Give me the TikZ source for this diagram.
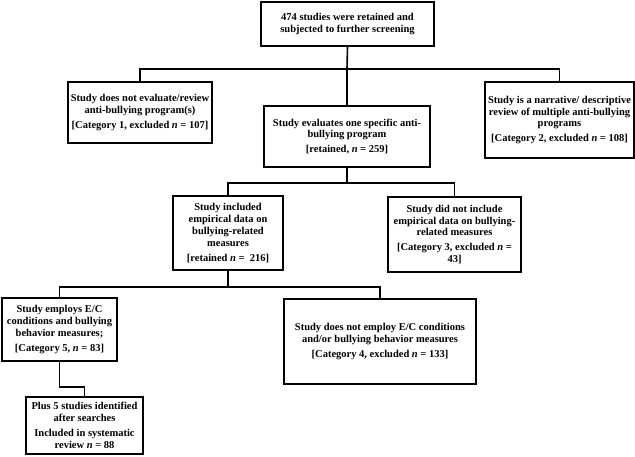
\documentclass[tikz,border=0pt]{standalone}
\usepackage{fontspec}
\setmainfont{Liberation Serif}
\begin{document}
\begin{tikzpicture}[x=1pt,y=-1pt,
  box/.style={draw, line width=1.6pt, align=center, inner sep=0pt,
    font=\bfseries\fontsize{10.5}{11.8}\selectfont},
  conn/.style={line width=1.6pt}]
\useasboundingbox (0,0) rectangle (635,456);
\node[box, minimum width=173pt, minimum height=44pt] (top) at (347.5,24)
  {474 studies were retained and\\subjected to further screening};
\node[box, minimum width=144pt, minimum height=61pt] (c1) at (140,112.5)
  {Study does not evaluate/review\\anti-bullying program(s)\\[3pt][Category 1, excluded \textit{n} = 107]};
\node[box, minimum width=166pt, minimum height=61pt] (mid) at (347,136.5)
  {Study evaluates one specific anti-\\bullying program\\[3pt][retained, \textit{n} = 259]};
\node[box, minimum width=149pt, minimum height=76pt] (c2) at (559.5,120)
  {Study is a narrative/ descriptive\\review of multiple anti-bullying\\programs\\[3pt][Category 2, excluded \textit{n} = 108]};
\node[box, minimum width=110pt, minimum height=74pt] (inc) at (228,233)
  {Study included\\empirical data on\\bullying-related\\measures\\[3pt][retained \textit{n} =\ \ 216]};
\node[box, minimum width=133pt, minimum height=75pt] (c3) at (454.5,234.5)
  {Study did not include\\empirical data on bullying-\\related measures\\[3pt][Category 3, excluded \textit{n} =\\43]};
\node[box, minimum width=115pt, minimum height=63pt] (c5) at (59.5,329.5)
  {Study employs E/C\\conditions and bullying\\behavior measures;\\[3pt][Category 5, \textit{n} = 83]};
\node[box, minimum width=192pt, minimum height=85pt] (c4) at (380,341.5)
  {Study does not employ E/C conditions\\and/or bullying behavior measures\\[3pt][Category 4, excluded \textit{n} = 133]};
\node[box, minimum width=117pt, minimum height=57pt] (fin) at (84.5,425.5)
  {Plus 5 studies identified\\after searches\\[3pt]Included in systematic\\review \textit{n} = 88};
\coordinate (j1) at (347,69);
\coordinate (j2) at (347,183);
\coordinate (j3) at (228,287);
\draw[conn] (top.south) -- (j1);
\draw[conn] (c1.north) |- (j1) -| (c2.north);
\draw[conn] (j1) -- (mid.north);
\draw[conn] (mid.south) -- (j2);
\draw[conn] (inc.north) |- (j2) -| (c3.north);
\draw[conn] (inc.south) -- (j3);
\draw[conn] (c5.north) |- (j3) -| (c4.north);
\draw[conn] (c5.south) -- ++(0,25) -| (fin.north);
\end{tikzpicture}
\end{document}
